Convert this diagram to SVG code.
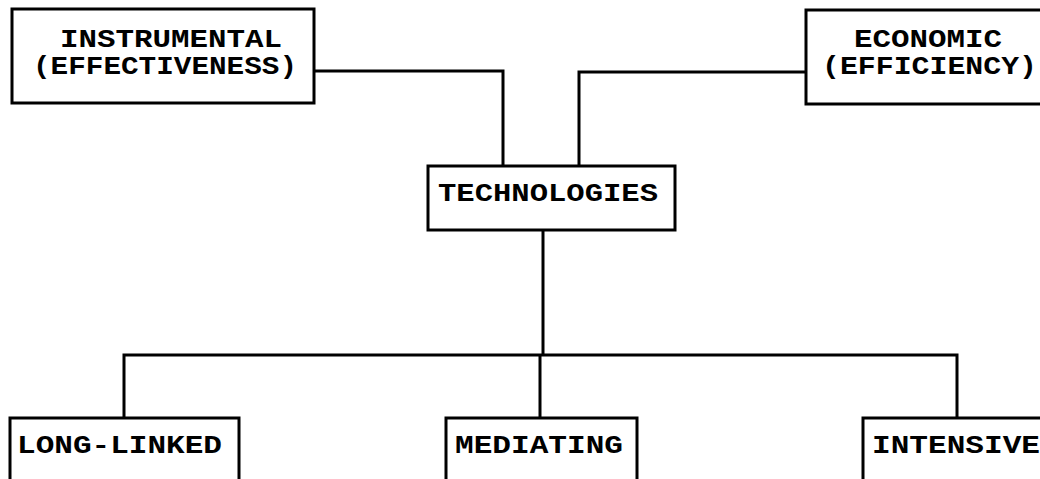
<svg xmlns="http://www.w3.org/2000/svg" width="1040" height="479" viewBox="0 0 1040 479">
<style>
.box{fill:#fff;stroke:#000;stroke-width:3}
.lbl{font-family:"Liberation Mono","Courier New",monospace;font-weight:bold;font-size:25px;fill:#000}
.conn{fill:none;stroke:#000;stroke-width:3;stroke-linejoin:miter}
</style>
<rect width="1040" height="479" fill="#fff"/>
<g id="connectors">
<path class="conn" d="M314,71 H503 V166"/>
<path class="conn" d="M806,72 H579 V166"/>
<path class="conn" d="M543,230 V355"/>
<path class="conn" d="M124,418 V355 H957 V418"/>
<path class="conn" d="M540,355 V418"/>
</g>
<g id="instrumental">
<rect class="box" x="12" y="9" width="302" height="94"/>
<text class="lbl" x="60" y="47" textLength="222" lengthAdjust="spacingAndGlyphs">INSTRUMENTAL</text>
<text class="lbl" x="33" y="74" textLength="264" lengthAdjust="spacingAndGlyphs">(EFFECTIVENESS)</text>
</g>
<g id="economic">
<rect class="box" x="806" y="10" width="250" height="94"/>
<text class="lbl" x="854" y="47" textLength="148" lengthAdjust="spacingAndGlyphs">ECONOMIC</text>
<text class="lbl" x="822" y="74" textLength="215" lengthAdjust="spacingAndGlyphs">(EFFICIENCY)</text>
</g>
<g id="technologies">
<rect class="box" x="428" y="166" width="247" height="64"/>
<text class="lbl" x="438" y="201" textLength="220" lengthAdjust="spacingAndGlyphs">TECHNOLOGIES</text>
</g>
<g id="long-linked">
<rect class="box" x="10" y="418" width="229" height="80"/>
<text class="lbl" x="17" y="453" textLength="205" lengthAdjust="spacingAndGlyphs">LONG-LINKED</text>
</g>
<g id="mediating">
<rect class="box" x="446" y="418" width="191" height="80"/>
<text class="lbl" x="455" y="453" textLength="168" lengthAdjust="spacingAndGlyphs">MEDIATING</text>
</g>
<g id="intensive">
<rect class="box" x="863" y="418" width="200" height="80"/>
<text class="lbl" x="872" y="453" textLength="168" lengthAdjust="spacingAndGlyphs">INTENSIVE</text>
</g>
</svg>
